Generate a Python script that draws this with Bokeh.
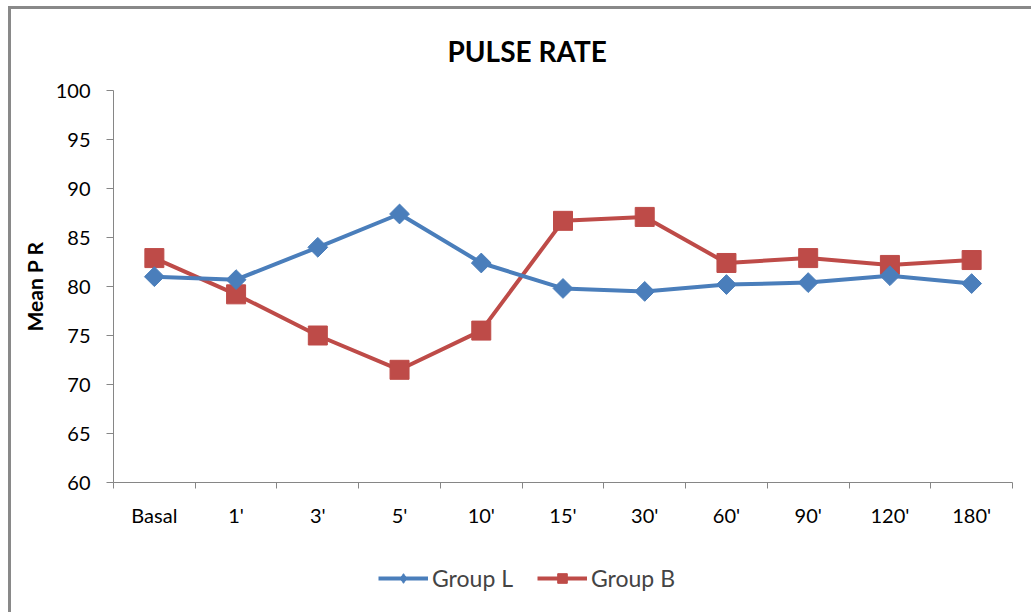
import math
from bokeh.plotting import figure
from bokeh.layouts import column
from bokeh.models import Range1d, FixedTicker, Legend, LegendItem
from bokeh.embed import file_html
from bokeh.resources import INLINE

categories = ["Basal", "1'", "3'", "5'", "10'", "15'", "30'", "60'", "90'", "120'", "180'"]
group_l = [81.0, 80.7, 84.0, 87.4, 82.4, 79.8, 79.5, 80.2, 80.4, 81.1, 80.3]
group_b = [82.9, 79.2, 75.0, 71.5, 75.5, 86.7, 87.1, 82.4, 82.9, 82.2, 82.7]
y_ticks = [60, 65, 70, 75, 80, 85, 90, 95, 100]

BLUE = "#4A7EBB"
RED = "#BE4B48"
AXIS = "#868686"
FONT = "Lato"

W = 1020
HP = 530   # main chart
HQ = 73    # legend strip

p = figure(width=W, height=HP, output_backend="svg", toolbar_location=None,
           x_range=Range1d(0, len(categories)), y_range=Range1d(60, 100),
           min_border_left=102, min_border_right=19, min_border_top=80, min_border_bottom=57,
           title="PULSE RATE")
p.title.align = "left"
p.title.offset = 334
p.title.standoff = 45
p.title.text_font = FONT
p.title.text_font_style = "bold"
p.title.text_font_size = "28px"
p.title.text_color = "#000000"

p.outline_line_color = None
p.grid.visible = False

xs = [i + 0.5 for i in range(len(categories))]

p.line(xs, group_b, line_color=RED, line_width=4)
p.scatter(xs, group_b, marker="square", size=19, fill_color=RED, line_color=RED)
p.line(xs, group_l, line_color=BLUE, line_width=4)
p.scatter(xs, group_l, marker="square", angle=math.pi / 4, size=14,
          fill_color=BLUE, line_color=BLUE)

# x axis: labels at category centres, ticks at category boundaries
xa = p.xaxis[0]
xa.ticker = FixedTicker(ticks=xs, minor_ticks=list(range(len(categories) + 1)))
xa.major_label_overrides = {x: c for x, c in zip(xs, categories)}
xa.major_tick_out = 0
xa.major_tick_in = 0
xa.minor_tick_out = 6
xa.minor_tick_in = 0
xa.minor_tick_line_color = AXIS
xa.axis_line_color = AXIS
xa.major_label_text_font = FONT
xa.major_label_text_font_size = "20px"
xa.major_label_standoff = 14
xa.major_label_text_color = "#000000"

ya = p.yaxis[0]
ya.ticker = FixedTicker(ticks=y_ticks, minor_ticks=[])
ya.major_tick_out = 7
ya.major_tick_in = 0
ya.major_tick_line_color = AXIS
ya.axis_line_color = AXIS
ya.major_label_text_font = FONT
ya.major_label_text_font_size = "20px"
ya.major_label_standoff = 16
ya.major_label_text_color = "#000000"
ya.axis_label = "Mean P R"
ya.axis_label_text_font = FONT
ya.axis_label_text_font_style = "bold"
ya.axis_label_text_font_size = "21px"
ya.axis_label_standoff = 6
ya.axis_label_text_color = "#000000"

# legend strip below the chart (its renderers lie outside its own view)
q = figure(width=W, height=HQ, output_backend="svg", toolbar_location=None,
           x_axis_location=None, y_axis_location=None,
           x_range=Range1d(-20, -19), y_range=Range1d(0, 1),
           min_border_left=0, min_border_right=0, min_border_top=0, min_border_bottom=0)
q.grid.visible = False
q.outline_line_color = None
qll = q.line(xs, group_l, line_color=BLUE, line_width=4)
qml = q.scatter(xs, group_l, marker="diamond", size=16, fill_color=BLUE, line_color=BLUE)
qlb = q.line(xs, group_b, line_color=RED, line_width=4)
qmb = q.scatter(xs, group_b, marker="square", size=13, fill_color=RED, line_color=RED)

legend = Legend(items=[LegendItem(label="Group L", renderers=[qll, qml]),
                       LegendItem(label="Group B", renderers=[qlb, qmb])],
                orientation="horizontal", location=(265, 20),
                glyph_width=50, glyph_height=24, label_text_font=FONT,
                label_text_font_size="23px", label_standoff=4, spacing=24,
                border_line_color=None, background_fill_alpha=0, padding=0, margin=0)
q.add_layout(legend, "center")

layout = column(p, q, spacing=0,
                styles={"margin-left": "8px", "margin-top": "6px",
                        "border-left": "3px solid #898989", "border-top": "3px solid #898989"})

open("out.html", "w").write(file_html(layout, INLINE))
